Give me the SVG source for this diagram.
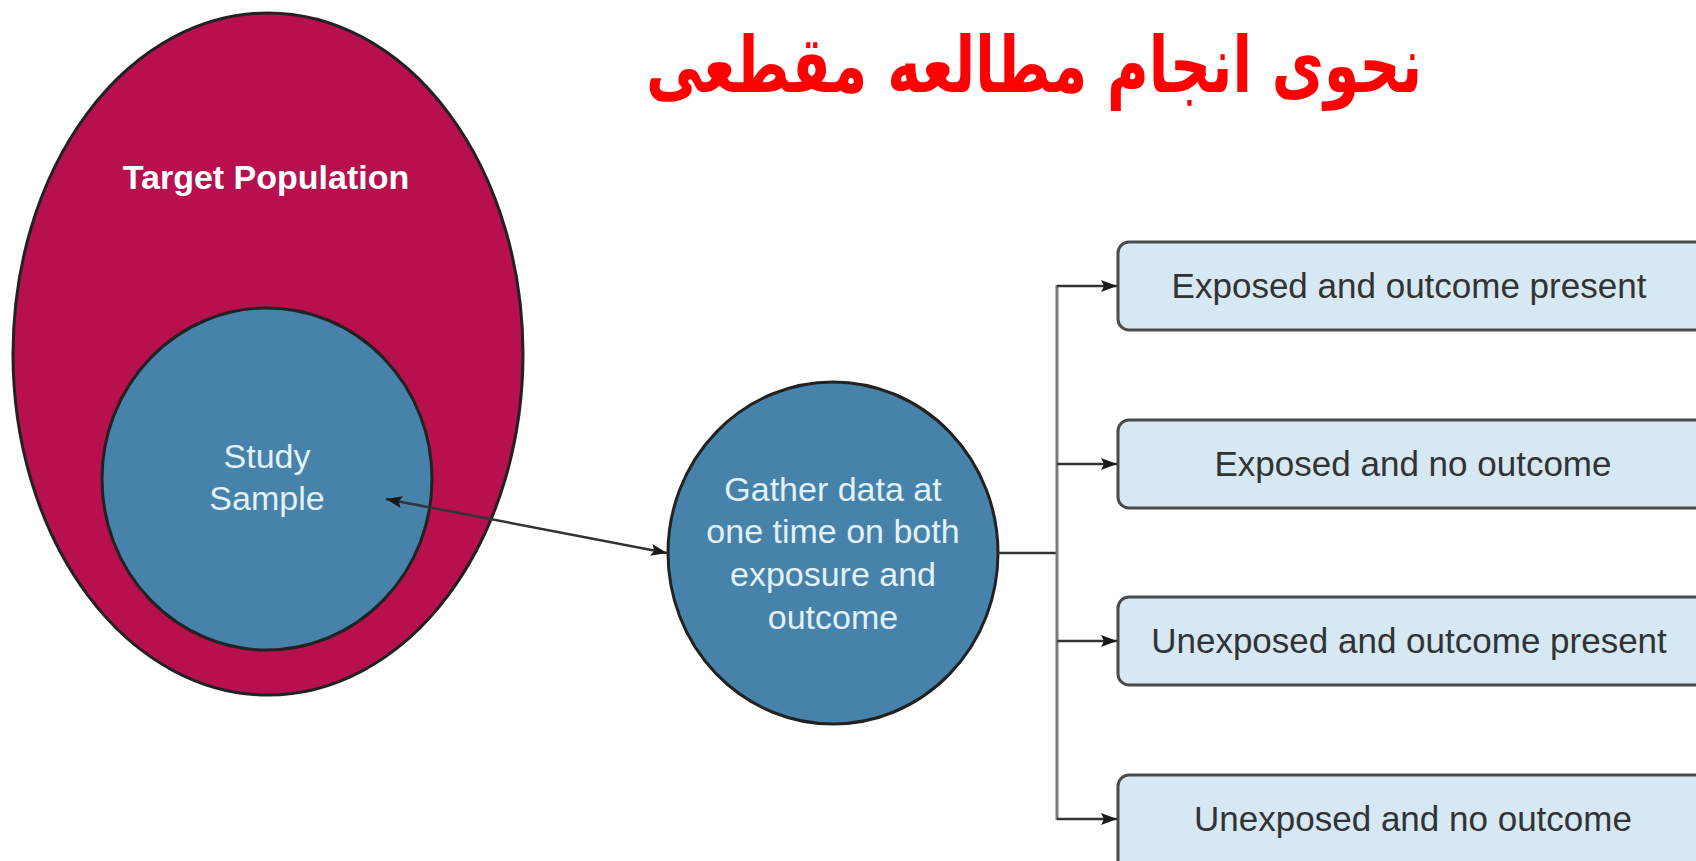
<svg xmlns="http://www.w3.org/2000/svg" width="1696" height="861" viewBox="0 0 1696 861">
<defs>
<style>
.title{font-family:"DejaVu Sans",sans-serif;font-weight:bold;font-size:78px;fill:#ff0000;}
.lbl{font-family:"Liberation Sans",Arial,sans-serif;font-size:34px;fill:#e3f1f8;text-anchor:middle;}
.bold{font-weight:bold;fill:#ffffff;}
.box{fill:#d5e8f3;stroke:#4a4a4a;stroke-width:3;}
.btxt{font-family:"Liberation Sans",Arial,sans-serif;font-size:35px;fill:#333333;text-anchor:middle;}
.circ{fill:#4682a9;stroke:#222;stroke-width:3;}
.conn{fill:none;stroke:#333;stroke-width:2.5;}
</style>
<marker id="ah" viewBox="0 0 16 12" refX="16" refY="6" markerWidth="16" markerHeight="12" markerUnits="userSpaceOnUse" orient="auto-start-reverse">
<path d="M0,0 L16,6 L0,12 L3,6 Z" fill="#1a1a1a"/>
</marker>
</defs>
<rect width="1696" height="861" fill="#ffffff"/>
<g id="title">
<text class="title" x="1034" y="92" text-anchor="middle" textLength="776" lengthAdjust="spacingAndGlyphs">نحوی انجام مطالعه مقطعی</text>
</g>
<g id="target-population">
<ellipse cx="268" cy="354" rx="255" ry="341" fill="#b80f4f" stroke="#222" stroke-width="3"/>
<text class="lbl bold" x="266" y="189">Target Population</text>
</g>
<g id="study-sample">
<ellipse class="circ" cx="267" cy="479" rx="165" ry="171"/>
<text class="lbl" x="267" y="468">Study</text>
<text class="lbl" x="267" y="510">Sample</text>
</g>
<g id="gather-data">
<ellipse class="circ" cx="833" cy="553" rx="165" ry="171"/>
<text class="lbl" x="833" y="501">Gather data at</text>
<text class="lbl" x="833" y="543">one time on both</text>
<text class="lbl" x="833" y="586">exposure and</text>
<text class="lbl" x="833" y="629">outcome</text>
</g>
<g id="connectors">
<line class="conn" x1="386" y1="499" x2="667" y2="553" marker-start="url(#ah)" marker-end="url(#ah)"/>
<line class="conn" x1="998" y1="553" x2="1058" y2="553"/>
<line x1="1057" y1="285" x2="1057" y2="820" stroke="#7a7a7a" stroke-width="3"/>
<line class="conn" x1="1057" y1="286" x2="1117" y2="286" marker-end="url(#ah)"/>
<line class="conn" x1="1057" y1="464" x2="1117" y2="464" stroke="#666" marker-end="url(#ah)"/>
<line class="conn" x1="1057" y1="641" x2="1117" y2="641" stroke="#555" marker-end="url(#ah)"/>
<line class="conn" x1="1057" y1="819" x2="1117" y2="819" marker-end="url(#ah)"/>
</g>
<g id="box-exposed-outcome">
<rect class="box" x="1118" y="242" width="590" height="88" rx="11"/>
<text class="btxt" x="1409" y="298">Exposed and outcome present</text>
</g>
<g id="box-exposed-no-outcome">
<rect class="box" x="1118" y="420" width="590" height="88" rx="11"/>
<text class="btxt" x="1413" y="476">Exposed and no outcome</text>
</g>
<g id="box-unexposed-outcome">
<rect class="box" x="1118" y="597" width="590" height="88" rx="11"/>
<text class="btxt" x="1409" y="653">Unexposed and outcome present</text>
</g>
<g id="box-unexposed-no-outcome">
<rect class="box" x="1118" y="775" width="590" height="100" rx="11"/>
<text class="btxt" x="1413" y="831">Unexposed and no outcome</text>
</g>
</svg>
